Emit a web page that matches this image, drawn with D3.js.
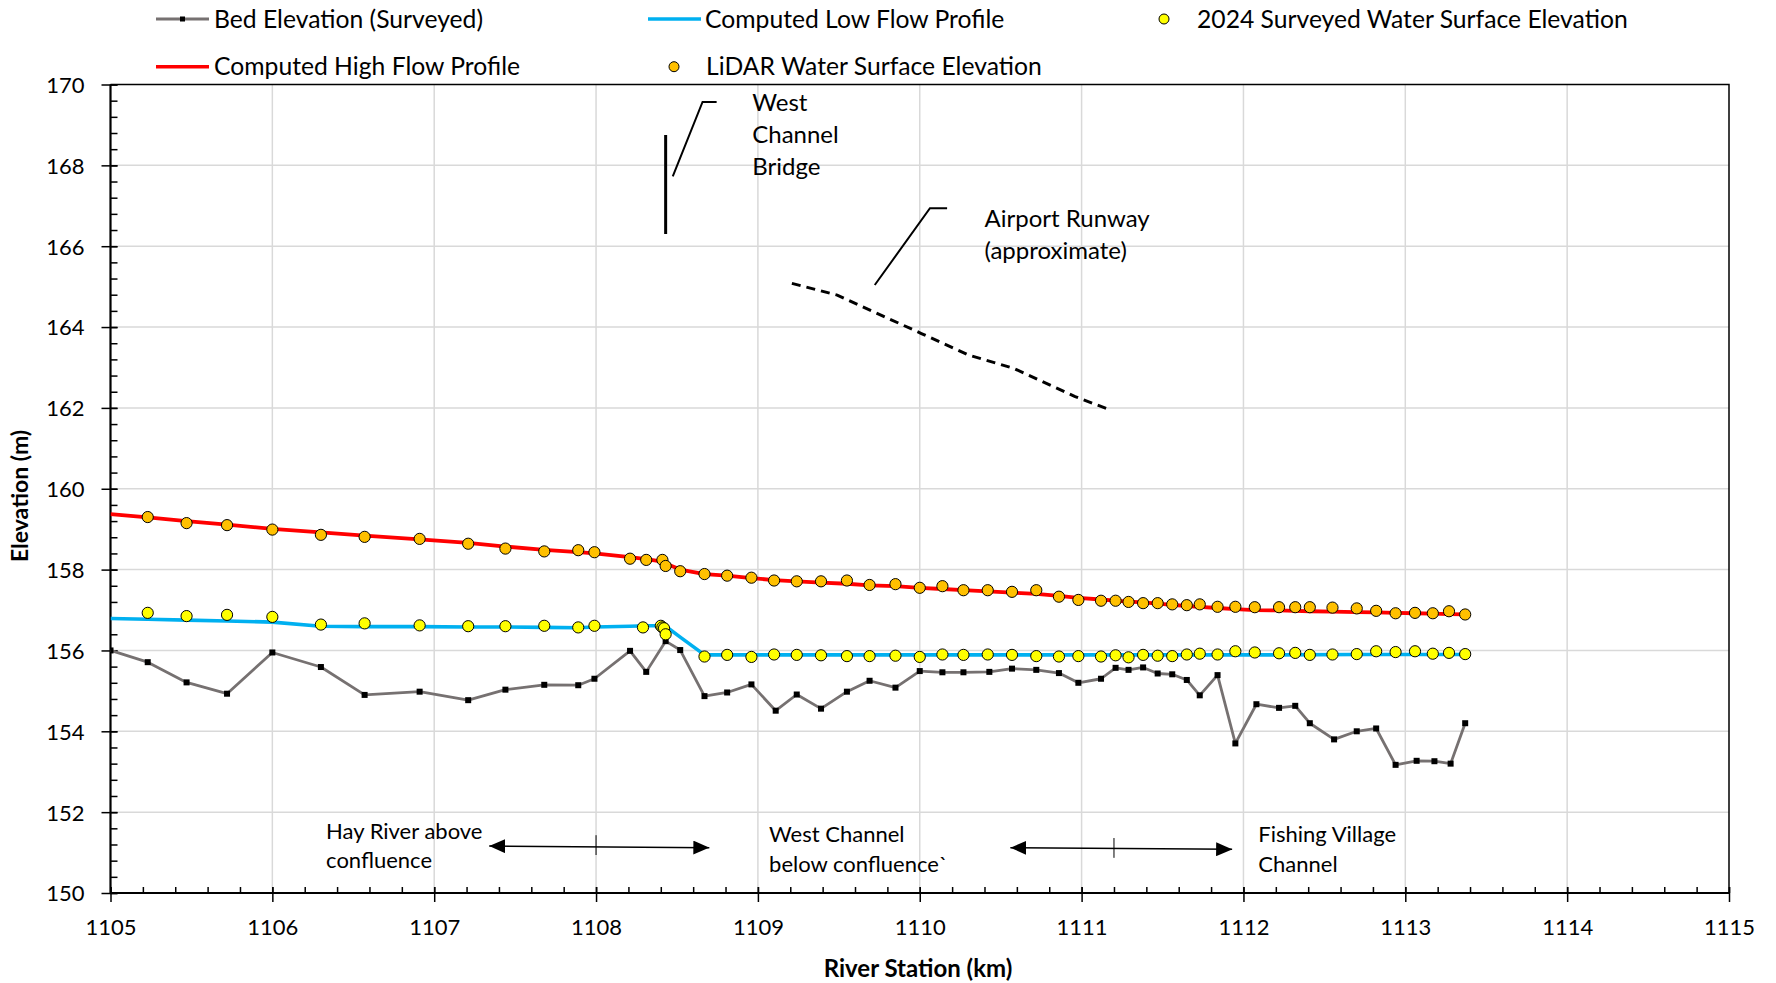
<!DOCTYPE html>
<html>
<head>
<meta charset="utf-8">
<script src="https://cdn.jsdelivr.net/npm/d3@7"></script>
<style>
  html, body { margin: 0; padding: 0; background: #fff; }
  svg { display: block; font-family: Lato, "Open Sans", sans-serif; }
</style>
</head>
<body>
<svg id="chart" width="1776" height="983"></svg>
<script>
// ---- Profile data: river station (km) and elevation (m) ----
const bedStation = [1105.00, 1105.23, 1105.47, 1105.72, 1106.00, 1106.30, 1106.57, 1106.91, 1107.21, 1107.44,
  1107.68, 1107.89, 1107.99, 1108.21, 1108.31, 1108.43, 1108.52, 1108.67, 1108.81, 1108.96,
  1109.11, 1109.24, 1109.39, 1109.55, 1109.69, 1109.85, 1110.00, 1110.14, 1110.27, 1110.43,
  1110.57, 1110.72, 1110.86, 1110.98, 1111.12, 1111.21, 1111.29, 1111.38, 1111.47, 1111.56,
  1111.65, 1111.73, 1111.84, 1111.95, 1112.08, 1112.22, 1112.32, 1112.41, 1112.56, 1112.70,
  1112.82, 1112.94, 1113.07, 1113.18, 1113.28, 1113.37];
const bedElevation = [156.00, 155.71, 155.21, 154.93, 155.95, 155.59, 154.90, 154.98, 154.77, 155.03,
  155.15, 155.14, 155.30, 155.99, 155.47, 156.23, 156.01, 154.87, 154.96, 155.16,
  154.51, 154.91, 154.56, 154.98, 155.25, 155.08, 155.49, 155.46, 155.46, 155.47,
  155.55, 155.52, 155.44, 155.20, 155.30, 155.57, 155.52, 155.58, 155.43, 155.41,
  155.27, 154.89, 155.39, 153.70, 154.67, 154.58, 154.63, 154.20, 153.80, 154.00,
  154.07, 153.17, 153.27, 153.26, 153.20, 154.20];

const lowFlowStation = [1105.00, 1105.23, 1105.47, 1105.72, 1106.00, 1106.30, 1106.57, 1106.91, 1107.21, 1107.44,
  1107.68, 1107.89, 1107.99, 1108.21, 1108.31, 1108.41, 1108.43, 1108.52, 1108.67, 1108.81,
  1109.24, 1109.69, 1110.00, 1110.57, 1111.21, 1111.73, 1112.22, 1112.70, 1113.06, 1113.37];
const lowFlowElevation = [156.79, 156.77, 156.75, 156.73, 156.70, 156.60, 156.59, 156.59, 156.58, 156.58,
  156.57, 156.56, 156.58, 156.60, 156.61, 156.61, 156.60, 156.33, 155.89, 155.89,
  155.89, 155.89, 155.89, 155.89, 155.89, 155.89, 155.89, 155.90, 155.90, 155.90];

const highFlowStation = [1105.00, 1105.23, 1105.47, 1105.72, 1106.00, 1106.30, 1106.57, 1106.91, 1107.21, 1107.44,
  1107.68, 1107.89, 1107.99, 1108.21, 1108.31, 1108.41, 1108.43, 1108.52, 1108.67, 1108.81,
  1108.96, 1109.10, 1109.24, 1109.39, 1109.55, 1109.69, 1109.85, 1110.00, 1110.14, 1110.27,
  1110.42, 1110.57, 1110.72, 1110.86, 1110.98, 1111.12, 1111.21, 1111.29, 1111.38, 1111.47,
  1111.56, 1111.65, 1111.73, 1111.84, 1111.95, 1112.07, 1112.22, 1112.32, 1112.41, 1112.55,
  1112.70, 1112.82, 1112.94, 1113.06, 1113.17, 1113.27, 1113.37];
const highFlowElevation = [159.37, 159.29, 159.20, 159.11, 159.01, 158.92, 158.84, 158.75, 158.66, 158.57,
  158.49, 158.43, 158.40, 158.31, 158.26, 158.20, 158.15, 158.00, 157.89, 157.85,
  157.79, 157.74, 157.71, 157.68, 157.65, 157.61, 157.59, 157.55, 157.52, 157.49,
  157.46, 157.43, 157.40, 157.35, 157.30, 157.26, 157.23, 157.21, 157.19, 157.16,
  157.13, 157.10, 157.08, 157.05, 157.02, 157.00, 156.99, 156.98, 156.97, 156.96,
  156.95, 156.94, 156.93, 156.92, 156.91, 156.90, 156.89];

const surveyedStation = [1105.23, 1105.47, 1105.72, 1106.00, 1106.30, 1106.57, 1106.91, 1107.21, 1107.44, 1107.68,
  1107.89, 1107.99, 1108.29, 1108.40, 1108.41, 1108.42, 1108.43, 1108.67, 1108.81, 1108.96,
  1109.10, 1109.24, 1109.39, 1109.55, 1109.69, 1109.85, 1110.00, 1110.14, 1110.27, 1110.42,
  1110.57, 1110.72, 1110.86, 1110.98, 1111.12, 1111.21, 1111.29, 1111.38, 1111.47, 1111.56,
  1111.65, 1111.73, 1111.84, 1111.95, 1112.07, 1112.22, 1112.32, 1112.41, 1112.55, 1112.70,
  1112.82, 1112.94, 1113.06, 1113.17, 1113.27, 1113.37];
const surveyedWSE = [156.93, 156.85, 156.88, 156.83, 156.64, 156.67, 156.62, 156.60, 156.60, 156.61,
  156.57, 156.61, 156.57, 156.61, 156.57, 156.55, 156.40, 155.85, 155.89, 155.84,
  155.90, 155.89, 155.88, 155.86, 155.86, 155.87, 155.84, 155.90, 155.89, 155.90,
  155.89, 155.86, 155.85, 155.86, 155.85, 155.88, 155.83, 155.89, 155.87, 155.86,
  155.90, 155.92, 155.90, 155.98, 155.95, 155.93, 155.94, 155.89, 155.90, 155.91,
  155.98, 155.96, 155.98, 155.92, 155.94, 155.91];

const lidarStation = [1105.23, 1105.47, 1105.72, 1106.00, 1106.30, 1106.57, 1106.91, 1107.21, 1107.44, 1107.68,
  1107.89, 1107.99, 1108.21, 1108.31, 1108.41, 1108.43, 1108.52, 1108.67, 1108.81, 1108.96,
  1109.10, 1109.24, 1109.39, 1109.55, 1109.69, 1109.85, 1110.00, 1110.14, 1110.27, 1110.42,
  1110.57, 1110.72, 1110.86, 1110.98, 1111.12, 1111.21, 1111.29, 1111.38, 1111.47, 1111.56,
  1111.65, 1111.73, 1111.84, 1111.95, 1112.07, 1112.22, 1112.32, 1112.41, 1112.55, 1112.70,
  1112.82, 1112.94, 1113.06, 1113.17, 1113.27, 1113.37];
const lidarWSE = [159.30, 159.15, 159.10, 158.99, 158.86, 158.81, 158.76, 158.64, 158.52, 158.45,
  158.48, 158.43, 158.27, 158.24, 158.24, 158.09, 157.96, 157.89, 157.85, 157.80,
  157.73, 157.71, 157.71, 157.73, 157.62, 157.64, 157.55, 157.59, 157.49, 157.49,
  157.45, 157.49, 157.33, 157.25, 157.23, 157.23, 157.20, 157.17, 157.17, 157.14,
  157.12, 157.14, 157.08, 157.08, 157.07, 157.07, 157.07, 157.07, 157.06, 157.04,
  156.98, 156.92, 156.93, 156.92, 156.97, 156.89];

// Airport runway (approximate) and West Channel Bridge deck
const runwayStation = [1109.21, 1109.49, 1110.01, 1110.30, 1110.58, 1110.96, 1111.17];
const runwayElevation = [165.08, 164.79, 163.84, 163.31, 162.98, 162.28, 161.96];
const bridgeStation = [1108.43, 1108.43];
const bridgeElevation = [166.30, 168.75];

// Axis ticks
const xTicks = [1105, 1106, 1107, 1108, 1109, 1110, 1111, 1112, 1113, 1114, 1115];
const yTicks = [150, 152, 154, 156, 158, 160, 162, 164, 166, 168, 170];
const xMinorTicks = d3.range(0, 51).map(i => 1105 + i * 0.2);
const yMinorTicks = d3.range(0, 51).map(i => 150 + i * 0.4);

// Labels
const seriesNames = ["Bed Elevation (Surveyed)", "Computed Low Flow Profile", "2024 Surveyed Water Surface Elevation",
  "Computed High Flow Profile", "LiDAR Water Surface Elevation"];
const xTitle = "River Station (km)";
const yTitle = "Elevation (m)";

// ---- Chart ----
const svg = d3.select("#chart");
const plot = { left: 110.5, right: 1729, top: 84.5, bottom: 893 };
const x = d3.scaleLinear().domain([1105, 1115]).range([plot.left, plot.right]);
const y = d3.scaleLinear().domain([150, 170]).range([plot.bottom, plot.top]);

const COLORS = { bed: "#767171", low: "#00b0f0", high: "#ff0000", surveyed: "#ffff00", lidar: "#ffc000" };

svg.append("defs").append("clipPath").attr("id", "plot-clip")
  .append("rect").attr("x", plot.left).attr("y", plot.top)
  .attr("width", plot.right - plot.left).attr("height", plot.bottom - plot.top);

// Gridlines
const grid = svg.append("g").attr("stroke", "#d9d9d9").attr("stroke-width", 1.5);
grid.selectAll("line.v").data(xTicks.slice(1, -1)).join("line").attr("class", "v")
  .attr("x1", d => x(d)).attr("x2", d => x(d)).attr("y1", y(150)).attr("y2", y(170));
grid.selectAll("line.h").data(yTicks.slice(1, -1)).join("line").attr("class", "h")
  .attr("x1", x(1105)).attr("x2", x(1115)).attr("y1", d => y(d)).attr("y2", d => y(d));

// Plot frame (top and right)
svg.append("path")
  .attr("d", `M${x(1105)},${y(170)}H${x(1115)}V${y(150)}`)
  .attr("fill", "none").attr("stroke", "#000").attr("stroke-width", 1.5);

// X axis
const xAxisG = svg.append("g").attr("transform", `translate(0,${plot.bottom})`)
  .call(d3.axisBottom(x).tickValues(xTicks).tickSize(9).tickPadding(0).tickFormat(d3.format("d")));
xAxisG.attr("font-family", null).attr("font-size", null);
xAxisG.select(".domain").remove();
xAxisG.selectAll(".tick line").attr("y1", -6).attr("stroke", "#000").attr("stroke-width", 1.5);
xAxisG.selectAll(".tick text").attr("y", 42).attr("dy", null)
  .style("font-size", "22px").attr("fill", "#000");
svg.append("g").attr("transform", `translate(0,${plot.bottom})`)
  .call(d3.axisTop(x).tickValues(xMinorTicks).tickSize(6).tickFormat(""))
  .call(g => g.select(".domain").remove())
  .selectAll(".tick line").attr("stroke", "#000").attr("stroke-width", 1.5);

// Y axis
const yAxisG = svg.append("g").attr("transform", `translate(${plot.left},0)`)
  .call(d3.axisLeft(y).tickValues(yTicks).tickSize(9).tickPadding(17).tickFormat(d3.format("d")));
yAxisG.attr("font-family", null).attr("font-size", null);
yAxisG.select(".domain").remove();
yAxisG.selectAll(".tick line").attr("x1", 7).attr("stroke", "#000").attr("stroke-width", 1.5);
yAxisG.selectAll(".tick text").attr("dy", "0.36em").style("font-size", "22px").attr("fill", "#000");
svg.append("g").attr("transform", `translate(${plot.left},0)`)
  .call(d3.axisRight(y).tickValues(yMinorTicks).tickSize(7).tickFormat(""))
  .call(g => g.select(".domain").remove())
  .selectAll(".tick line").attr("stroke", "#000").attr("stroke-width", 1.5);

// Axis lines
svg.append("line").attr("x1", x(1105)).attr("x2", x(1115)).attr("y1", y(150)).attr("y2", y(150))
  .attr("stroke", "#000").attr("stroke-width", 2.2);
svg.append("line").attr("x1", x(1105)).attr("x2", x(1105)).attr("y1", y(150)).attr("y2", y(170))
  .attr("stroke", "#000").attr("stroke-width", 2.2);

// Axis titles
svg.append("text").attr("x", 918).attr("y", 977)
  .attr("text-anchor", "middle").attr("font-weight", 700).style("font-size", "24px").text(xTitle);
svg.append("text").attr("transform", "translate(28,496) rotate(-90)")
  .attr("text-anchor", "middle").attr("font-weight", 700).style("font-size", "23px").text(yTitle);

// Series
const line = d3.line().x(d => x(d[0])).y(d => y(d[1]));
const series = svg.append("g").attr("clip-path", "url(#plot-clip)");

const bed = d3.zip(bedStation, bedElevation);
const low = d3.zip(lowFlowStation, lowFlowElevation);
const high = d3.zip(highFlowStation, highFlowElevation);
const surveyed = d3.zip(surveyedStation, surveyedWSE);
const lidar = d3.zip(lidarStation, lidarWSE);

series.append("path").datum(bed).attr("d", line)
  .attr("fill", "none").attr("stroke", COLORS.bed).attr("stroke-width", 2.8).attr("stroke-linejoin", "round");
series.append("g").selectAll("rect").data(bed).join("rect")
  .attr("x", d => x(d[0]) - 3).attr("y", d => y(d[1]) - 3).attr("width", 6).attr("height", 6).attr("fill", "#000");

series.append("path").datum(low).attr("d", line)
  .attr("fill", "none").attr("stroke", COLORS.low).attr("stroke-width", 3.6).attr("stroke-linejoin", "round");
series.append("path").datum(high).attr("d", line)
  .attr("fill", "none").attr("stroke", COLORS.high).attr("stroke-width", 3.8).attr("stroke-linejoin", "round");

series.append("g").selectAll("circle").data(surveyed).join("circle")
  .attr("cx", d => x(d[0])).attr("cy", d => y(d[1])).attr("r", 5.6)
  .attr("fill", COLORS.surveyed).attr("stroke", "#000").attr("stroke-width", 1);
series.append("g").selectAll("circle").data(lidar).join("circle")
  .attr("cx", d => x(d[0])).attr("cy", d => y(d[1])).attr("r", 5.6)
  .attr("fill", COLORS.lidar).attr("stroke", "#000").attr("stroke-width", 1);

// Bridge and runway
series.append("path").datum(d3.zip(bridgeStation, bridgeElevation)).attr("d", line)
  .attr("fill", "none").attr("stroke", "#000").attr("stroke-width", 3);
series.append("path").datum(d3.zip(runwayStation, runwayElevation)).attr("d", line)
  .attr("fill", "none").attr("stroke", "#000").attr("stroke-width", 3).attr("stroke-dasharray", "9,6");

// Callouts
const callouts = svg.append("g").attr("fill", "none").attr("stroke", "#000").attr("stroke-width", 2);
callouts.append("path").datum([[1108.474, 167.73], [1108.658, 169.57], [1108.745, 169.57]]).attr("d", line);
callouts.append("path").datum([[1109.722, 165.04], [1110.063, 166.94], [1110.169, 166.94]]).attr("d", line);

function multiline(px, lines, baselines, size) {
  const t = svg.append("g").style("font-size", size + "px").attr("fill", "#000");
  lines.forEach((s, i) => t.append("text").attr("x", x(px)).attr("y", y(baselines[i])).text(s));
}
multiline(1108.965, ["West", "Channel", "Bridge"], [169.35, 168.56, 167.77], 24);
multiline(1110.40, ["Airport Runway", "(approximate)"], [166.47, 165.68], 24);
multiline(1106.332, ["Hay River above", "confluence"], [151.33, 150.61], 22);
multiline(1109.069, ["West Channel", "below confluence`"], [151.25, 150.53], 22);
multiline(1112.092, ["Fishing Village", "Channel"], [151.25, 150.53], 22);

// Reach arrows
const defs = svg.select("defs");
defs.append("marker").attr("id", "arrow-end").attr("viewBox", "0 0 16 14").attr("refX", 16).attr("refY", 7)
  .attr("markerWidth", 16).attr("markerHeight", 14).attr("markerUnits", "userSpaceOnUse").attr("orient", "auto")
  .append("path").attr("d", "M0,0L16,7L0,14Z").attr("fill", "#000");
defs.append("marker").attr("id", "arrow-start").attr("viewBox", "0 0 16 14").attr("refX", 0).attr("refY", 7)
  .attr("markerWidth", 16).attr("markerHeight", 14).attr("markerUnits", "userSpaceOnUse").attr("orient", "auto")
  .append("path").attr("d", "M16,0L0,7L16,14Z").attr("fill", "#000");

const arrows = svg.append("g").attr("stroke", "#000").attr("fill", "none");
[[[1107.34, 151.16], [1108.70, 151.12]], [[1110.56, 151.12], [1111.93, 151.08]]].forEach(seg => {
  arrows.append("path").datum(seg).attr("d", line).attr("stroke-width", 1.5)
    .attr("marker-start", "url(#arrow-start)").attr("marker-end", "url(#arrow-end)");
});
[[1108.0, 151.43, 150.94], [1111.2, 151.36, 150.87]].forEach(t => {
  arrows.append("line").attr("x1", x(t[0])).attr("x2", x(t[0])).attr("y1", y(t[1])).attr("y2", y(t[2]))
    .attr("stroke-width", 1);
});

// Legend
const legend = svg.append("g");
const legendItems = [
  { name: seriesNames[0], kind: "bed", sx: 156, tx: 214, row: 0 },
  { name: seriesNames[1], kind: "low", sx: 648, tx: 705, row: 0 },
  { name: seriesNames[2], kind: "surveyed", sx: 1136, tx: 1197, row: 0 },
  { name: seriesNames[3], kind: "high", sx: 156, tx: 214, row: 1 },
  { name: seriesNames[4], kind: "lidar", sx: 646, tx: 706, row: 1 }
];
const rowY = [19, 66.7], rowBase = [27.5, 75.2];
legendItems.forEach(it => {
  const cy = rowY[it.row];
  if (it.kind === "bed" || it.kind === "low" || it.kind === "high") {
    legend.append("line").attr("x1", it.sx).attr("x2", it.sx + 53).attr("y1", cy).attr("y2", cy)
      .attr("stroke", COLORS[it.kind]).attr("stroke-width", it.kind === "bed" ? 2.8 : 3.6);
    if (it.kind === "bed") {
      legend.append("rect").attr("x", it.sx + 26.5 - 2.5).attr("y", cy - 2.5).attr("width", 5).attr("height", 5).attr("fill", "#000");
    }
  } else {
    legend.append("circle").attr("cx", it.sx + 28).attr("cy", cy).attr("r", 5)
      .attr("fill", COLORS[it.kind]).attr("stroke", "#000").attr("stroke-width", 1);
  }
  legend.append("text").attr("x", it.tx).attr("y", rowBase[it.row]).style("font-size", "24.7px").text(it.name);
});
</script>
</body>
</html>
